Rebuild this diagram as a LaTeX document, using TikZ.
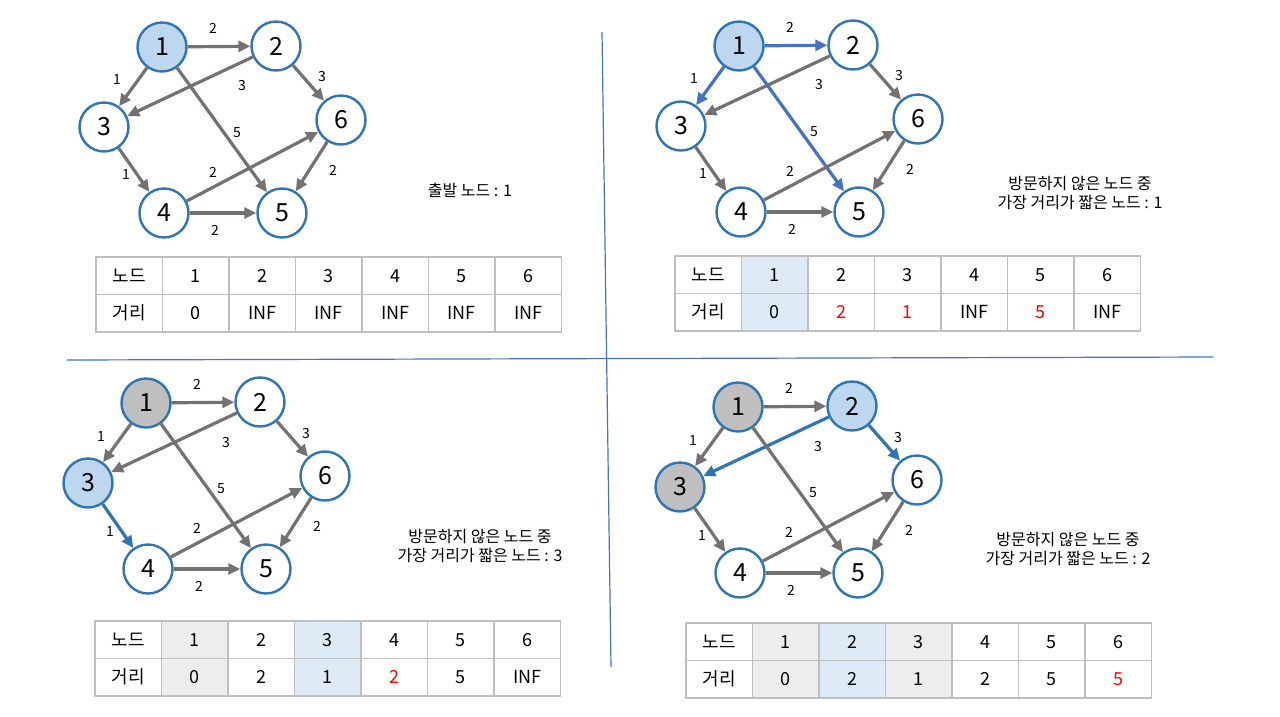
\documentclass[tikz,border=0pt]{standalone}
\usepackage{fontspec}
\setmainfont{Noto Sans CJK KR}
\usetikzlibrary{arrows.meta}

\definecolor{ringblue}{HTML}{2E75B6}
\definecolor{curfill}{HTML}{BDD7EE}
\definecolor{donefill}{HTML}{BFBFBF}
\definecolor{edgegrey}{HTML}{767171}
\definecolor{hotblue}{HTML}{2E75B6}
\definecolor{brightblue}{HTML}{4472C4}
\definecolor{cellline}{HTML}{BFBFBF}
\definecolor{tblue}{HTML}{DDEBF7}
\definecolor{tgrey}{HTML}{EDEDED}
\definecolor{hotred}{HTML}{FF0000}
\definecolor{lineblue}{HTML}{4472C4}

\tikzset{
  vtx/.style={circle, draw=ringblue, line width=2.4pt, fill=white, minimum size=49pt,
              inner sep=0pt, font=\fontsize{25}{28}\selectfont},
  cur/.style={fill=curfill},
  done/.style={fill=donefill},
  edge/.style={draw=edgegrey, line width=3.2pt, -{Triangle[length=12pt,width=11pt]}},
  lbl/.style={inner sep=0pt, font=\fontsize{14}{16}\selectfont},
  cell/.style={draw=cellline, line width=1.2pt, minimum width=66.5pt, minimum height=37.5pt,
               inner sep=0pt, font=\fontsize{18}{21}\selectfont},
  note/.style={align=center, font=\fontsize{16}{19}\selectfont},
  divider/.style={draw=lineblue, line width=1.2pt},
  % per panel overrides
  look1/.style={}, look2/.style={}, look3/.style={},
  look4/.style={}, look5/.style={}, look6/.style={},
  way12/.style={}, way13/.style={}, way23/.style={}, way26/.style={}, way15/.style={},
  way34/.style={}, way46/.style={}, way65/.style={}, way45/.style={},
}

% graph of one panel (coordinates of the first panel)
\newcommand{\dijkgraph}{%
  \node[vtx, look1] (n1) at (162,47) {1};
  \node[vtx, look2] (n2) at (276,46) {2};
  \node[vtx, look3] (n3) at (104,127) {3};
  \node[vtx, look6] (n6) at (341,120) {6};
  \node[vtx, look4] (n4) at (164,213) {4};
  \node[vtx, look5] (n5) at (282,213) {5};
  \foreach \a/\b/\w/\lx/\ly in {1/2/2/213/28, 1/3/1/117/80, 2/3/3/242/86, 2/6/3/322/77,
      1/5/5/237/133, 3/4/1/126/175, 4/6/2/213/172, 6/5/2/333/170, 4/5/2/215/230} {
    \draw[edge, way\a\b] (n\a) -- (n\b);
    \node[lbl] (w\a\b) at (\lx,\ly) {\w};
  }
}

% distance table: entries node/distance/text colour/fill
\newcommand{\disttable}[1]{%
  \node[cell] (h0) at (33.25,18.75) {노드};
  \node[cell] (d0) at (33.25,56.25) {거리};
  \foreach \i/\d/\dc/\cf in {#1} {
    \node[cell, fill=\cf] (h\i) at ({33.25+66.5*\i},18.75) {\i};
    \node[cell, fill=\cf, text=\dc] (d\i) at ({33.25+66.5*\i},56.25) {\d};
  }
}

\begin{document}
\begin{tikzpicture}[x=1pt, y=-1pt]
    \fill[white] (0,0) rectangle (1280,716);
    \useasboundingbox (0,0) rectangle (1280,716);

    % Dividers
    \draw[divider] (602,32) -- (611,667);
    \draw[divider] (67,360) -- (1213,357);

    % Panel 1
    \begin{scope}[name prefix=g1-, look1/.style={cur}]
        \dijkgraph
    \end{scope}
    \begin{scope}[shift={(96,257)}, name prefix=t1-]
        \disttable{1/0/black/white, 2/INF/black/white, 3/INF/black/white,
                   4/INF/black/white, 5/INF/black/white, 6/INF/black/white}
    \end{scope}
    \node[note] (start) at (470,190) {출발 노드 : 1};

    % Panel 2
    \begin{scope}[shift={(577,-1)}, name prefix=g2-, look1/.style={cur},
        way12/.style={draw=brightblue}, way13/.style={draw=brightblue},
        way15/.style={draw=brightblue}]
        \dijkgraph
    \end{scope}
    \begin{scope}[shift={(675,256)}, name prefix=t2-]
        \disttable{1/0/black/tblue, 2/2/hotred/white, 3/1/hotred/white,
                   4/INF/black/white, 5/5/hotred/white, 6/INF/black/white}
    \end{scope}
    \node[note] (pick1) at (1080,193) {방문하지 않은 노드 중\\가장 거리가 짧은 노드 : 1};

    % Panel 3
    \begin{scope}[shift={(-16,356)}, name prefix=g3-, look1/.style={done},
        look3/.style={cur}, way34/.style={draw=hotblue}]
        \dijkgraph
    \end{scope}
    \begin{scope}[shift={(95,621)}, name prefix=t3-]
        \disttable{1/0/black/tgrey, 2/2/black/white, 3/1/black/tblue,
                   4/2/hotred/white, 5/5/black/white, 6/INF/black/white}
    \end{scope}
    \node[note] (pick3) at (480,546) {방문하지 않은 노드 중\\가장 거리가 짧은 노드 : 3};

    % Panel 4
    \begin{scope}[shift={(576,360)}, name prefix=g4-, look1/.style={done},
        look3/.style={done}, look2/.style={cur},
        way23/.style={draw=hotblue}, way26/.style={draw=hotblue}]
        \dijkgraph
    \end{scope}
    \begin{scope}[shift={(686,623)}, name prefix=t4-]
        \disttable{1/0/black/tgrey, 2/2/black/tblue, 3/1/black/tgrey,
                   4/2/black/white, 5/5/black/white, 6/5/hotred/white}
    \end{scope}
    \node[note] (pick2) at (1068,549) {방문하지 않은 노드 중\\가장 거리가 짧은 노드 : 2};
\end{tikzpicture}
\end{document}
